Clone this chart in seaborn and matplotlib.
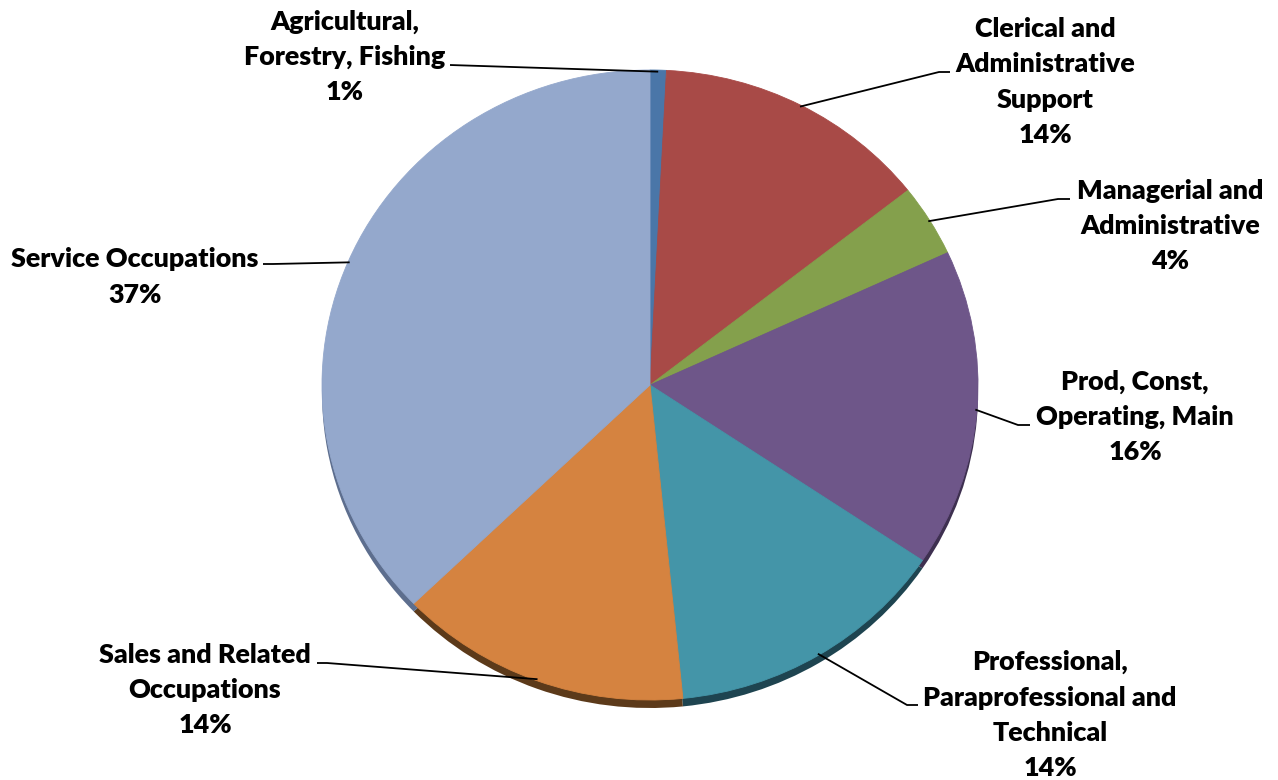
import matplotlib
matplotlib.use("Agg")
import matplotlib.pyplot as plt
import seaborn as sns
import numpy as np

# slices, clockwise from 12 o'clock
categories = [
    "Agricultural,\nForestry, Fishing",
    "Clerical and\nAdministrative\nSupport",
    "Managerial and\nAdministrative",
    "Prod, Const,\nOperating, Main",
    "Professional,\nParaprofessional and\nTechnical",
    "Sales and Related\nOccupations",
    "Service Occupations",
]
shares = [0.8, 13.6, 3.7, 16.3, 14.0, 14.4, 37.2]

face_colors = ["#4A76A8", "#A84A47", "#84A04C", "#6E5689", "#4495A8", "#D58340", "#94A8CC"]
side_colors = ["#2E4A6A", "#5E2826", "#4A5A2A", "#3E3050", "#1E4450", "#5C3A1A", "#5D6E8E"]

# label block centre and leader elbow, in pixels of the 1278x780 picture
label_xy = [(345, 57), (1045, 82), (1170, 226), (1135, 417), (1050, 715), (205, 690), (135, 277)]
elbow_xy = [(450, 65), (939, 72), (1058, 199), (1018, 425), (907, 705), (327, 663), (273, 264)]
tail_xy = [None, (950, 72), (1070, 199), (1030, 425), (918, 705), (317, 663), (263, 264)]

W, H = 1278, 780
CX, CY, RX, RY = 650, 385, 328, 315


def to_data(px, py):
    return (px - CX) / RX, (CY - py) / RY


sns.set_theme(style="white")
plt.rcParams["font.family"] = ["Lato", "DejaVu Sans"]

fig = plt.figure(figsize=(W / 100, H / 100), dpi=100)
ax = fig.add_axes([0, 0, 1, 1])

# darker copy underneath gives the thin 3D rim
ax.pie(shares, colors=side_colors, startangle=90, counterclock=False,
       center=(0, -8 / RY), radius=1.0,
       wedgeprops=dict(linewidth=0.5, edgecolor="none"))
wedges, _ = ax.pie(shares, colors=face_colors, startangle=90, counterclock=False,
                   center=(0, 0), radius=1.0,
                   wedgeprops=dict(linewidth=0.6))
for w, c in zip(wedges, face_colors):
    w.set_edgecolor(c)

ax.set_aspect("auto")
ax.set_xlim(-CX / RX, (W - CX) / RX)
ax.set_ylim((CY - H) / RY, CY / RY)
ax.axis("off")

for w, cat, val, lab, elb, tail in zip(wedges, categories, shares, label_xy, elbow_xy, tail_xy):
    mid = np.deg2rad((w.theta1 + w.theta2) / 2)
    pts = [(np.cos(mid) * 0.995, np.sin(mid) * 0.995), to_data(*elb)]
    if tail is not None:
        pts.append(to_data(*tail))
    xs, ys = zip(*pts)
    ax.plot(xs, ys, color="black", lw=1.3, solid_capstyle="butt")
    tx, ty = to_data(*lab)
    ax.text(tx, ty, f"{cat}\n{round(val):.0f}%", ha="center", va="center",
            fontsize=19.4, fontweight="heavy", linespacing=1.56, color="black")

fig.savefig("out.png", dpi=100, facecolor="white")
